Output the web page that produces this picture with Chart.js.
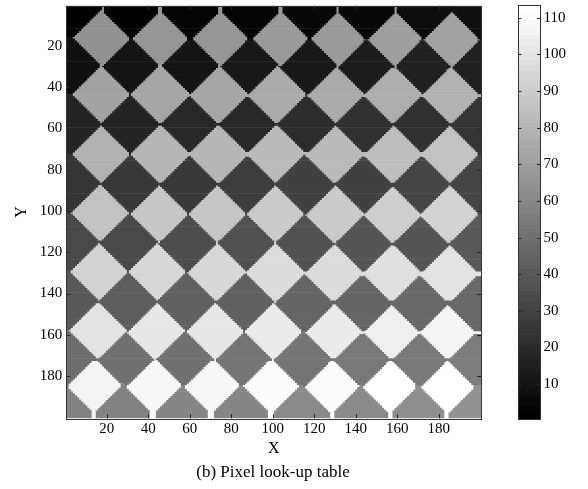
<!DOCTYPE html>
<html>
<head>
<meta charset="utf-8">
<script src="https://cdn.jsdelivr.net/npm/chart.js@4.4.0/dist/chart.umd.min.js"></script>
<style>
  body { margin: 0; background: #fff; width: 588px; height: 489px; position: relative; overflow: hidden;
         font-family: "Liberation Serif", "Times New Roman", serif; }
  #main { position: absolute; left: 0; top: 0; }
  #cbar { position: absolute; left: 500px; top: 0; }
  #caption { position: absolute; left: 0; width: 546px; top: 462px; text-align: center; font-size: 17px; line-height: 20px; color: #000; }
</style>
</head>
<body>
<canvas id="main" width="500" height="489"></canvas>
<canvas id="cbar" width="88" height="489"></canvas>
<div id="caption">(b) Pixel look-up table</div>
<script>
// sample points of the look-up table
// dark rows (index 1..64), one row of 8 per line
var darkX = [
  [3.5, 31.5, 60.0, 89.0, 117.8, 145.0, 172.8, 199.5],
  [3.2, 31.4, 59.8, 88.2, 117.2, 144.8, 172.2, 199.5],
  [3.0, 31.2, 59.5, 87.5, 116.2, 144.2, 171.8, 199.2],
  [2.8, 31.0, 59.2, 87.2, 115.8, 143.8, 171.4, 199.0],
  [2.5, 30.5, 58.8, 87.0, 115.4, 143.4, 171.0, 198.6],
  [2.0, 30.0, 58.2, 86.5, 115.0, 142.6, 170.0, 197.5],
  [1.4, 29.2, 57.4, 85.8, 114.6, 142.2, 169.6, 196.8],
  [0.5, 28.0, 56.4, 85.0, 114.0, 141.8, 169.2, 196.5]
];
var darkY = [
  [2.0, 3.9, 4.2, 4.2, 4.2, 4.0, 3.3, 3.0],
  [29.5, 29.5, 29.6, 29.6, 29.7, 29.7, 29.8, 29.8],
  [58.0, 58.0, 58.0, 58.0, 58.0, 58.0, 58.0, 58.0],
  [87.0, 87.0, 87.0, 87.0, 87.0, 87.0, 87.0, 87.0],
  [115.5, 115.5, 115.5, 115.5, 115.6, 115.7, 115.8, 115.8],
  [144.0, 144.2, 144.4, 144.6, 144.8, 145.0, 145.2, 145.4],
  [172.0, 172.0, 172.0, 172.0, 172.0, 172.0, 172.0, 172.0],
  [197.0, 197.1, 197.2, 197.3, 197.4, 197.5, 197.5, 197.5]
];
// light rows (index 65..113), one row of 7 per line
var lightX = [
  [17.5, 45.8, 74.6, 104.0, 131.2, 159.0, 186.3],
  [17.2, 45.6, 73.8, 101.5, 130.0, 157.6, 185.6],
  [17.2, 45.6, 73.4, 100.8, 129.4, 157.4, 185.0],
  [16.5, 44.8, 73.0, 100.8, 129.4, 157.4, 184.5],
  [16.0, 44.0, 72.2, 100.5, 129.8, 158.2, 185.5],
  [15.4, 43.3, 71.7, 100.0, 130.0, 157.6, 184.5],
  [13.4, 42.0, 69.8, 98.5, 128.8, 157.0, 184.5]
];
var lightY = [
  [15.8, 16.0, 16.2, 16.4, 16.6, 16.8, 17.0],
  [43.3, 43.4, 43.5, 43.6, 43.7, 43.8, 43.9],
  [72.4, 72.4, 72.4, 72.4, 72.4, 72.4, 72.4],
  [101.4, 101.5, 101.6, 101.7, 101.8, 101.9, 102.0],
  [129.0, 129.3, 129.6, 129.9, 130.2, 130.4, 130.6],
  [158.5, 158.6, 158.7, 158.8, 158.9, 159.0, 159.0],
  [185.2, 185.3, 185.4, 185.5, 185.6, 185.8, 186.0]
];
var xTicks = [20, 40, 60, 80, 100, 120, 140, 160, 180];
var yTicks = [20, 40, 60, 80, 100, 120, 140, 160, 180];
var cbarTicks = [10, 20, 30, 40, 50, 60, 70, 80, 90, 100, 110];
var nPix = 200;
var nLevels = 64;

var seeds = [];
darkX.forEach(function (row, r) { row.forEach(function (x, c) { seeds.push([x, darkY[r][c]]); }); });
lightX.forEach(function (row, r) { row.forEach(function (x, c) { seeds.push([x, lightY[r][c]]); }); });
var vMax = seeds.length;

function grayFor(v) {
  var lvl = Math.min(nLevels - 1, Math.floor((v - 1) / (vMax - 1) * nLevels));
  var g = Math.round(lvl / (nLevels - 1) * 255);
  return 'rgb(' + g + ',' + g + ',' + g + ')';
}

// nearest sample point (city-block distance) for each pixel
function lookup(px, py) {
  var best = 0, bestD = Infinity;
  for (var k = 0; k < seeds.length; k++) {
    var d = Math.abs(px - seeds[k][0]) + Math.abs(py - seeds[k][1]);
    if (d < bestD) { bestD = d; best = k; }
  }
  return best + 1;
}

// each image row becomes runs of equal value -> floating bars
var runs = [];
for (var y = 1; y <= nPix; y++) {
  var row = [], start = 1, cur = lookup(1, y);
  for (var x = 2; x <= nPix + 1; x++) {
    var v = x <= nPix ? lookup(x, y) : -1;
    if (v !== cur) { row.push({ a: start, b: x - 1, v: cur }); start = x; cur = v; }
  }
  runs.push(row);
}
var maxRuns = Math.max.apply(null, runs.map(function (r) { return r.length; }));
var datasets = [];
for (var k = 0; k < maxRuns; k++) {
  var data = [], colors = [];
  runs.forEach(function (row, i) {
    if (row[k]) {
      data.push({ x: [row[k].a - 0.5, Math.min(nPix + 0.5, row[k].b + 0.7)], y: i + 1 });
      colors.push(grayFor(row[k].v));
    }
  });
  datasets.push({ data: data, backgroundColor: colors, borderWidth: 0 });
}

Chart.defaults.font.family = '"Liberation Serif", "Times New Roman", serif';
Chart.defaults.font.size = 15;
Chart.defaults.color = '#000';

// keep the plot box where it is, whatever the tick labels need
function noPad(s) { s.paddingTop = 0; s.paddingBottom = 0; s.paddingLeft = 0; s.paddingRight = 0; }

var frameTicks = {
  id: 'frameTicks',
  afterDatasetsDraw: function (chart, args, opts) {
    var ctx = chart.ctx, a = chart.chartArea, L = opts.len;
    ctx.save();
    ctx.strokeStyle = '#222';
    ctx.lineWidth = 1;
    ctx.beginPath();
    (opts.xVals || []).forEach(function (v) {
      var p = Math.round(chart.scales.x.getPixelForValue(v)) + 0.5;
      ctx.moveTo(p, a.bottom); ctx.lineTo(p, a.bottom - L);
      ctx.moveTo(p, a.top); ctx.lineTo(p, a.top + L);
    });
    (opts.yVals || []).forEach(function (v) {
      var p = Math.round(chart.scales.y.getPixelForValue(v)) + 0.5;
      ctx.moveTo(a.left, p); ctx.lineTo(a.left + L, p);
      ctx.moveTo(a.right, p); ctx.lineTo(a.right - L, p);
    });
    ctx.stroke();
    ctx.strokeStyle = '#333';
    ctx.strokeRect(Math.round(a.left) + 0.5, Math.round(a.top) + 0.5,
                   Math.round(a.right - a.left), Math.round(a.bottom - a.top));
    ctx.restore();
  }
};

new Chart(document.getElementById('main'), {
  type: 'bar',
  data: { datasets: datasets },
  options: {
    responsive: false,
    animation: false,
    events: [],
    indexAxis: 'y',
    grouped: false,
    barPercentage: 1.35,
    categoryPercentage: 1,
    layout: { padding: { left: 0, right: 18.8, top: 5.8, bottom: 26.7 } },
    plugins: { legend: { display: false }, tooltip: { enabled: false },
               frameTicks: { len: 4, xVals: xTicks, yVals: yTicks } },
    scales: {
      x: {
        type: 'linear', min: 0.5, max: 200.5, position: 'bottom', offset: false,
        grid: { display: false, drawTicks: false }, border: { display: false },
        ticks: { padding: 2, maxRotation: 0 },
        afterBuildTicks: function (s) { s.ticks = xTicks.map(function (v) { return { value: v }; }); },
        afterFit: function (s) { s.height = 44; noPad(s); },
        title: { display: true, text: 'X', font: { size: 16 }, padding: { top: 0, bottom: 3.5 } }
      },
      y: {
        type: 'linear', min: 0.5, max: 200.5, reverse: true, position: 'left', offset: false,
        grid: { display: false, drawTicks: false }, border: { display: false },
        ticks: { padding: 4 },
        afterBuildTicks: function (s) { s.ticks = yTicks.map(function (v) { return { value: v }; }); },
        afterFit: function (s) { s.width = 66.2; noPad(s); },
        title: { display: true, text: 'Y', font: { size: 16 }, padding: { top: 12, bottom: 0 } }
      }
    }
  },
  plugins: [frameTicks]
});

// colour bar: one bar per table value
var cbarVals = [], cbarColors = [];
for (var c = 1; c <= vMax; c++) { cbarVals.push({ x: [0, 1], y: c }); cbarColors.push(grayFor(c)); }

new Chart(document.getElementById('cbar'), {
  type: 'bar',
  data: { datasets: [{ data: cbarVals, backgroundColor: cbarColors, borderWidth: 0 }] },
  options: {
    responsive: false,
    animation: false,
    events: [],
    indexAxis: 'y',
    grouped: false,
    barPercentage: 1.35,
    categoryPercentage: 1,
    layout: { padding: { left: 18.3, right: 0, top: 5, bottom: 70 } },
    plugins: { legend: { display: false }, tooltip: { enabled: false },
               frameTicks: { len: 3, yVals: cbarTicks } },
    scales: {
      x: { type: 'linear', min: 0, max: 1, display: false, offset: false },
      y: {
        type: 'linear', min: 0.5, max: 113.5, position: 'right', offset: false,
        grid: { display: false, drawTicks: false }, border: { display: false },
        ticks: { padding: 3.5 },
        afterBuildTicks: function (s) { s.ticks = cbarTicks.map(function (v) { return { value: v }; }); },
        afterFit: function (s) { s.width = 48; noPad(s); }
      }
    }
  },
  plugins: [frameTicks]
});
</script>
</body>
</html>
